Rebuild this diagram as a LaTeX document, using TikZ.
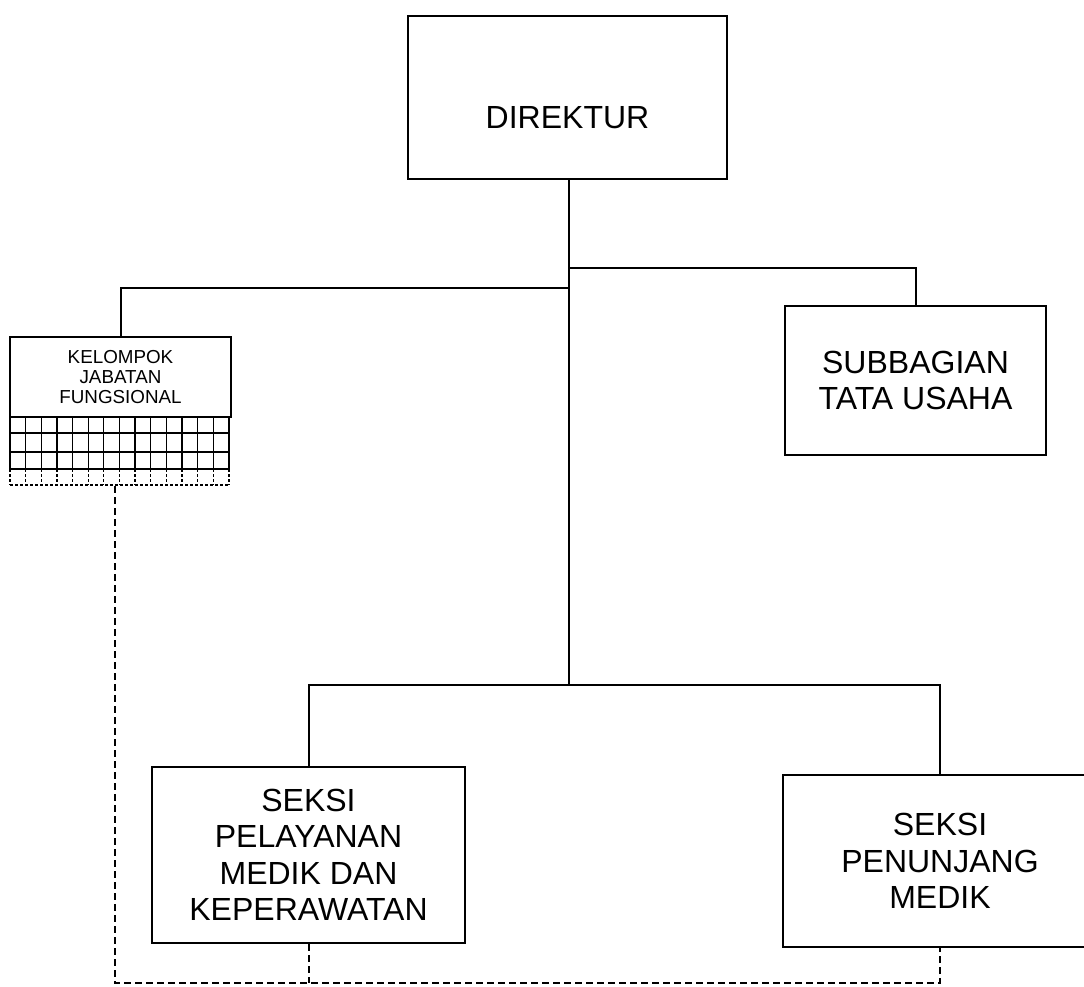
\documentclass[tikz,border=0pt]{standalone}
\usepackage{fontspec}
\setmainfont{Liberation Sans}
\newcommand{\bigfnt}{\fontsize{32}{36.5}\selectfont}
\newcommand{\smallfnt}{\fontsize{18.8}{20}\selectfont}
\begin{document}
\begin{tikzpicture}[x=1pt,y=-1pt,line width=2pt,
  box/.style={draw,rectangle,inner sep=0pt,align=center,font=\bigfnt},
  dashline/.style={dash pattern=on 7pt off 4pt},
  gridline/.style={line width=1.3pt}]
\useasboundingbox (0,0) rectangle (1084,987);
% boxes
\node[box,minimum width=319pt,text height=112.5pt,text depth=50.5pt,anchor=north] (dir) at (567.5,15) {DIREKTUR};
\node[box,minimum width=261pt,minimum height=149pt] (sub) at (915.5,380.5) {SUBBAGIAN\\TATA USAHA};
\node[box,minimum width=221pt,minimum height=80pt,font=\smallfnt] (kjf) at (120.5,377) {KELOMPOK\\JABATAN\\FUNGSIONAL};
\node[box,minimum width=313pt,minimum height=176pt] (pel) at (308.5,855) {SEKSI\\PELAYANAN\\MEDIK DAN\\KEPERAWATAN};
\node[box,minimum width=314pt,minimum height=172pt] (pen) at (940,861) {SEKSI\\PENUNJANG\\MEDIK};
% grid under KJF
\foreach \i in {0,...,14}{
  \draw[gridline] (10+\i*15.64,417) -- (10+\i*15.64,469);
  \draw[gridline,dash pattern=on 3pt off 2pt] (10+\i*15.64,469) -- (10+\i*15.64,485);
}
\foreach \yy in {433,452,469}{
  \draw[gridline] (10,\yy) -- (229,\yy);
}
\draw[gridline,dash pattern=on 3pt off 2pt] (10,485) -- (229,485);
% solid connectors
\coordinate (br1) at (569,268);
\coordinate (br2) at (569,288);
\coordinate (bj) at (569,685);
\draw (dir.south -| br1) -- (bj);
\draw (br1) -| (sub.north);
\draw (br2) -| (kjf.north);
\draw (bj) -| (pel.north);
\draw (bj) -| (pen.north);
% dashed connectors
\coordinate (kjfg) at (115,486);
\coordinate (bot) at (115,983);
\draw[dashline] (kjfg) -- (bot) -| (pen.south);
\draw[dashline] (pel.south) -- (pel.south |- bot);
\end{tikzpicture}
\end{document}
